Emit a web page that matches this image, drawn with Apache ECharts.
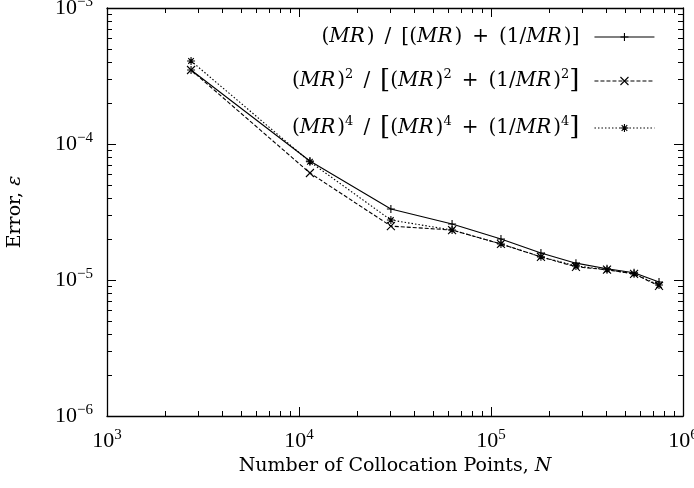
<!DOCTYPE html>
<html>
<head>
<meta charset="utf-8">
<script src="https://cdn.jsdelivr.net/npm/echarts@6/dist/echarts.min.js"></script>
<style>
  html, body { margin: 0; padding: 0; background: #fff; }
  #chart { width: 694px; height: 488px; }
</style>
</head>
<body>
<div id="chart"></div>
<script>
// collocation points N and error values
const nPoints = [2740, 11400, 30100, 62700, 112700, 182000, 277000, 402000, 556000, 750000];
const errPow1 = [3.50e-4, 7.50e-5, 3.33e-5, 2.58e-5, 2.00e-5, 1.58e-5, 1.33e-5, 1.21e-5, 1.13e-5, 9.67e-6];
const errPow2 = [3.50e-4, 6.12e-5, 2.49e-5, 2.33e-5, 1.84e-5, 1.48e-5, 1.25e-5, 1.19e-5, 1.11e-5, 9.04e-6];
const errPow4 = [4.08e-4, 7.40e-5, 2.76e-5, 2.33e-5, 1.84e-5, 1.48e-5, 1.27e-5, 1.19e-5, 1.11e-5, 9.19e-6];

const seriesNames = ['p1', 'p2', 'p4'];
const SP = '\u2002';
const legendLabels = {
    p1: '({i|MR})' + SP + '/' + SP + '[({i|MR})' + SP + '+' + SP + '(1/{i|MR})]' + SP,
    p2: '({i|MR}){s|2}' + SP + '/' + SP + '{b|[}({i|MR}){s|2}' + SP + '+' + SP + '(1/{i|MR}){s|2}{b|]}' + SP,
    p4: '({i|MR}){s|4}' + SP + '/' + SP + '{b|[}({i|MR}){s|4}' + SP + '+' + SP + '(1/{i|MR}){s|4}{b|]}' + SP,
};

const NUM_FONT = 'Liberation Serif';
const TXT_FONT = 'DejaVu Serif';
const SYM_PLUS = 'path://M0,5L10,5M5,0L5,10';
const SYM_CROSS = 'path://M0,0L10,10M10,0L0,10';
const SYM_STAR = 'path://M0,5L10,5M5,0L5,10M1.5,1.5L8.5,8.5M8.5,1.5L1.5,8.5';

const powLabel = (v) => {
    const e = Math.round(Math.log10(v));
    return '{b|10}{e|' + String(e).replace('-', '\u2212') + '}';
};
const tickRich = {
    b: { fontFamily: NUM_FONT, fontSize: 22, color: '#000' },
    e: { fontFamily: NUM_FONT, fontSize: 15, color: '#000', verticalAlign: 'top', padding: [0, 0, 11, 0] },
};

function makeAxis(pos, isX, showLabel) {
    return {
        type: 'log',
        logBase: 10,
        position: pos,
        min: isX ? 1e3 : 1e-6,
        max: isX ? 1e6 : 1e-3,
        interval: 1,
        axisLine: { show: true, onZero: false, lineStyle: { color: '#000', width: 1.3 } },
        axisTick: { show: true, inside: true, length: 9, lineStyle: { color: '#000', width: 1 } },
        minorTick: { show: true, splitNumber: 9, length: 5, lineStyle: { color: '#000', width: 1 } },
        splitLine: { show: false },
        minorSplitLine: { show: false },
        axisLabel: {
            show: showLabel,
            formatter: powLabel,
            rich: tickRich,
            margin: isX ? 12 : 14,
        },
    };
}

function makeSeries(name, values, symbol, dash) {
    return {
        name: name,
        type: 'line',
        data: nPoints.map((n, i) => [n, values[i]]),
        symbol: symbol,
        symbolSize: 8,
        showSymbol: true,
        lineStyle: { color: '#000', width: 1.1, type: dash },
        itemStyle: { color: '#000', borderColor: '#000', borderWidth: 1.1 },
        animation: false,
    };
}

const titleStyle = {
    fontFamily: TXT_FONT, fontSize: 19, color: '#000',
    rich: { i: { fontFamily: TXT_FONT, fontSize: 19, fontStyle: 'italic', color: '#000' } },
};

const chart = echarts.init(document.getElementById('chart'));
chart.setOption({
    backgroundColor: '#fff',
    animation: false,
    grid: { left: 107, right: 11, top: 8, bottom: 72, containLabel: false, outerBoundsMode: 'none' },
    xAxis: [
        Object.assign(makeAxis('bottom', true, true), {
            name: 'Number of Collocation Points, {i|N}',
            nameLocation: 'middle',
            nameGap: 40,
            nameTextStyle: titleStyle,
        }),
        makeAxis('top', true, false),
    ],
    yAxis: [
        Object.assign(makeAxis('left', false, true), {
            name: 'Error, {i|\u03b5}',
            nameLocation: 'middle',
            nameGap: 82,
            nameRotate: 90,
            nameTextStyle: titleStyle,
        }),
        makeAxis('right', false, false),
    ],
    legend: {
        orient: 'vertical',
        align: 'right',
        right: 34,
        top: 22,
        itemWidth: 60,
        itemHeight: 10,
        itemGap: 21,
        data: seriesNames,
        formatter: (name) => legendLabels[name],
        lineStyle: { width: 1.1 },
        itemStyle: { borderWidth: 1.1 },
        textStyle: {
            fontFamily: TXT_FONT,
            fontSize: 20,
            color: '#000',
            rich: {
                i: { fontFamily: TXT_FONT, fontSize: 20, fontStyle: 'italic', color: '#000', padding: [0, 2, 0, 0] },
                s: { fontFamily: TXT_FONT, fontSize: 13, color: '#000', verticalAlign: 'top', padding: [0, 0, 10, 0] },
                b: { fontFamily: TXT_FONT, fontSize: 26, color: '#000' },
            },
        },
        selectedMode: false,
    },
    series: [
        makeSeries('p1', errPow1, SYM_PLUS, 'solid'),
        makeSeries('p2', errPow2, SYM_CROSS, [4, 2]),
        makeSeries('p4', errPow4, SYM_STAR, [1.5, 2]),
    ],
});
</script>
</body>
</html>
